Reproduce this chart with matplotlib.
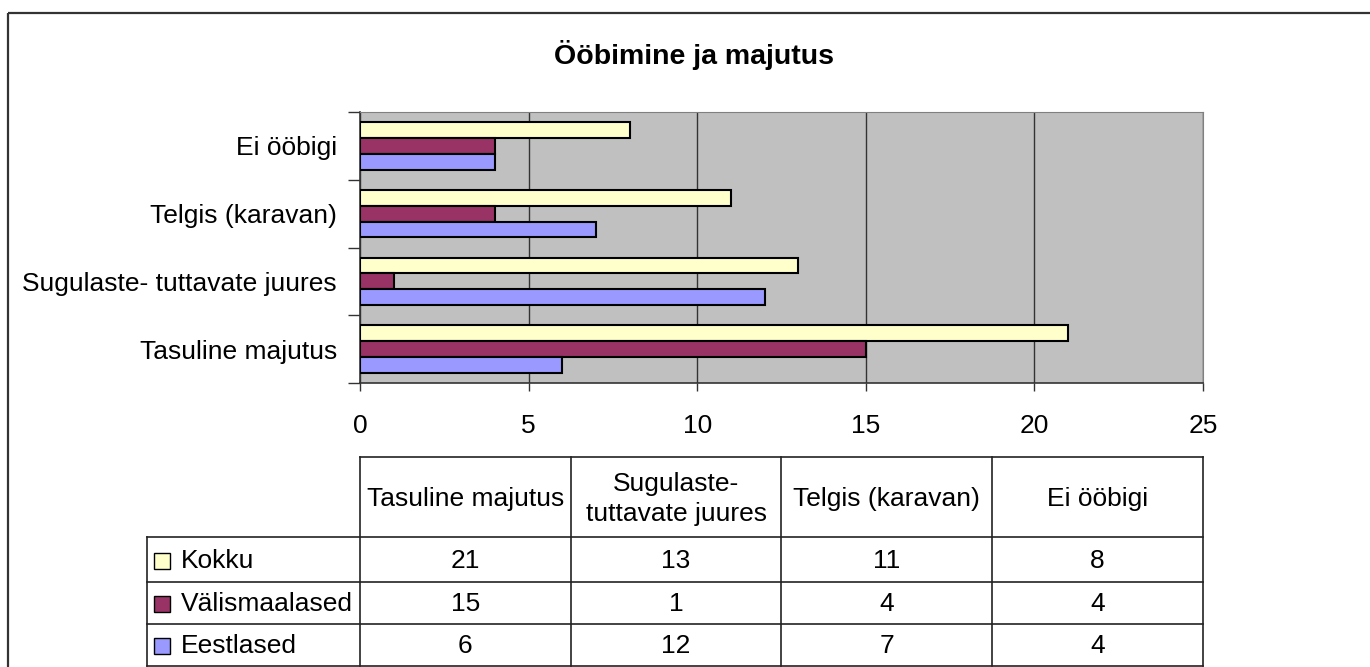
import matplotlib
matplotlib.use("Agg")
import matplotlib.pyplot as plt
import numpy as np
from matplotlib.patches import Rectangle

plt.rcParams["font.family"] = ["Liberation Sans", "DejaVu Sans"]

# data
categories = ["Tasuline majutus", "Sugulaste- tuttavate juures",
              "Telgis (karavan)", "Ei ööbigi"]
table_headers = ["Tasuline majutus", "Sugulaste-\ntuttavate juures",
                 "Telgis (karavan)", "Ei ööbigi"]
series_names = ["Kokku", "Välismaalased", "Eestlased"]
kokku = [21, 13, 11, 8]
valismaalased = [15, 1, 4, 4]
eestlased = [6, 12, 7, 4]
xticks = [0, 5, 10, 15, 20, 25]

COLORS = {
    "Kokku": "#FFFFCC",
    "Välismaalased": "#993366",
    "Eestlased": "#9999FF",
}

W, H, DPI = 1370, 667, 100
FS = 19

fig = plt.figure(figsize=(W / DPI, H / DPI), dpi=DPI)

# overlay in pixel coords for frame and table
ov = fig.add_axes([0, 0, 1, 1])
ov.set_xlim(0, W)
ov.set_ylim(H, 0)
ov.axis("off")
ov.add_patch(Rectangle((8, 13), 1500, 800, fill=False,
                       edgecolor="#333333", linewidth=1.6))

# plot area
px0, px1, py0, py1 = 360, 1203, 112, 383
ax = fig.add_axes([px0 / W, 1 - py1 / H, (px1 - px0) / W, (py1 - py0) / H])
ax.set_facecolor("#C0C0C0")

series = [kokku, valismaalased, eestlased]
bh = 0.7 / 3
y = np.arange(len(categories))
for i, (name, vals) in enumerate(zip(series_names, series)):
    offs = bh - i * bh
    ax.barh(y + offs, vals, height=bh, color=COLORS[name],
            edgecolor="black", linewidth=1.5, zorder=3)

ax.set_xlim(0, 25)
ax.set_ylim(-0.5, len(categories) - 0.5)
ax.set_xticks(xticks)
ax.set_xticklabels([str(t) for t in xticks], fontsize=FS)
ax.set_yticks(y)
ax.set_yticklabels(categories, fontsize=FS)
ax.tick_params(axis="y", length=0, pad=16.5)
ax.tick_params(axis="x", length=6, width=1, color="#333333", pad=16)
ax.set_yticks(np.arange(len(categories) + 1) - 0.5, minor=True)
ax.tick_params(axis="y", which="minor", length=9, width=1, color="#333333")
ax.grid(axis="x", color="#333333", linewidth=1, zorder=1)
for side in ["top", "right"]:
    ax.spines[side].set_color("#808080")
for side in ["left", "bottom"]:
    ax.spines[side].set_color("#333333")
    ax.spines[side].set_linewidth(1.2)

fig.text(694 / W, 1 - 55 / H, "Ööbimine ja majutus", fontsize=20.5,
         fontweight="bold", ha="center", va="center")

# data table
col_x = np.linspace(px0, px1, len(categories) + 1)
row_y = [457, 537, 582, 624, 666]
tx0 = 147
lc = "#222222"
ov.plot([px0, px1], [row_y[0], row_y[0]], color=lc, lw=1.2)
for yy in row_y[1:]:
    ov.plot([tx0, px1], [yy, yy], color=lc, lw=1.2)
for xx in col_x:
    ov.plot([xx, xx], [row_y[0], row_y[-1]], color=lc, lw=1.2)
ov.plot([tx0, tx0], [row_y[1], row_y[-1]], color=lc, lw=1.2)

for j, hdr in enumerate(table_headers):
    ov.text((col_x[j] + col_x[j + 1]) / 2, (row_y[0] + row_y[1]) / 2 + 2, hdr,
            fontsize=FS, ha="center", va="center", linespacing=1.35)

for i, (name, vals) in enumerate(zip(series_names, series)):
    yc = (row_y[i + 1] + row_y[i + 2]) / 2 + 1
    ov.add_patch(Rectangle((154, yc - 8), 16, 16, facecolor=COLORS[name],
                           edgecolor="black", linewidth=1))
    ov.text(181, yc, name, fontsize=FS, ha="left", va="center")
    for j, v in enumerate(vals):
        ov.text((col_x[j] + col_x[j + 1]) / 2, yc, str(v),
                fontsize=FS, ha="center", va="center")

fig.savefig("out.png", dpi=DPI, facecolor="white")
